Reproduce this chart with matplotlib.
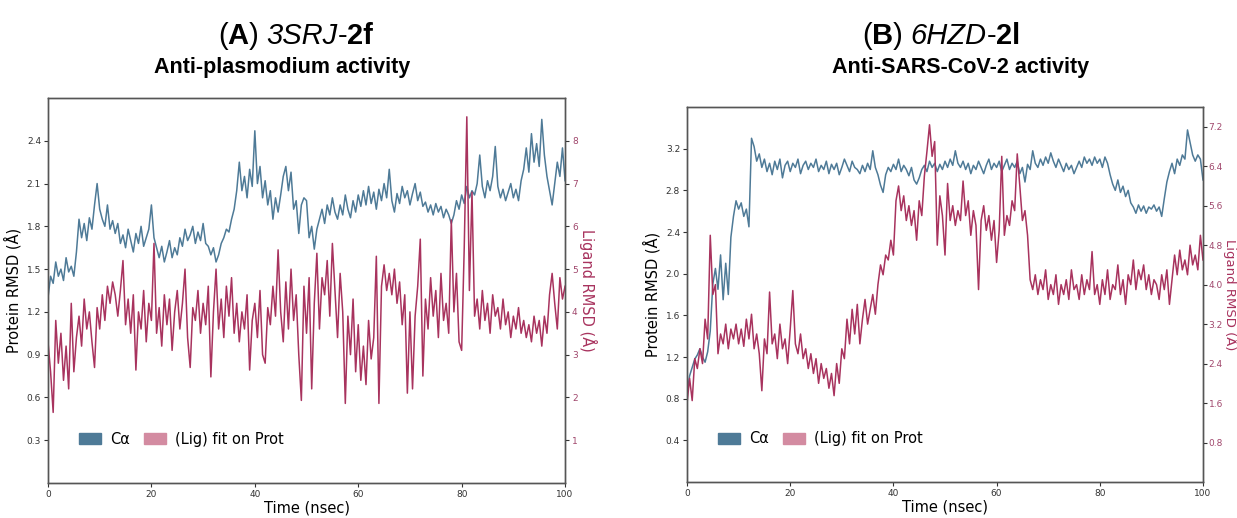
import numpy as np
import matplotlib
matplotlib.use("Agg")
import matplotlib.pyplot as plt
from matplotlib.patches import Patch

# time axis, 0.5 ns steps
time_ns = np.arange(0, 100.5, 0.5)

# (A) 3SRJ-2f : protein C-alpha RMSD (left axis)
prot_a = [1.30, 1.45, 1.40, 1.55, 1.45, 1.50, 1.42, 1.58, 1.48, 1.52,
          1.45, 1.62, 1.85, 1.72, 1.82, 1.70, 1.86, 1.78, 1.95, 2.10,
          1.92, 1.85, 1.80, 1.95, 1.78, 1.84, 1.75, 1.82, 1.68, 1.74,
          1.65, 1.78, 1.70, 1.62, 1.75, 1.68, 1.80, 1.66, 1.72, 1.78,
          1.95, 1.72, 1.65, 1.58, 1.66, 1.55, 1.62, 1.70, 1.58, 1.65,
          1.60, 1.72, 1.66, 1.78, 1.70, 1.74, 1.80, 1.68, 1.76, 1.70,
          1.82, 1.68, 1.66, 1.60, 1.65, 1.55, 1.60, 1.68, 1.72, 1.78,
          1.76, 1.85, 1.92, 2.05, 2.25, 2.05, 2.15, 2.00, 2.20, 2.08,
          2.47, 2.10, 2.22, 2.00, 2.12, 1.95, 2.05, 1.85, 2.00, 1.90,
          2.02, 2.15, 2.22, 2.05, 2.18, 1.92, 1.98, 1.75, 1.95, 2.00,
          1.98, 1.72, 1.80, 1.64, 1.78, 1.85, 1.92, 1.82, 1.95, 1.88,
          2.00, 1.90, 1.85, 1.95, 1.88, 2.02, 1.92, 1.86, 1.98, 1.90,
          2.02, 1.94, 2.05, 1.95, 2.08, 1.96, 2.04, 1.92, 2.06, 1.98,
          2.10, 2.00, 2.20, 1.98, 1.90, 2.03, 1.96, 2.08, 2.00, 2.05,
          1.95, 2.03, 2.10, 1.98, 2.04, 1.94, 1.97, 1.90, 1.95, 1.88,
          1.96, 1.90, 1.94, 1.86, 1.92, 1.88, 1.82, 1.88, 1.98, 1.92,
          2.02, 1.96, 2.08, 2.00, 2.05, 2.02, 2.10, 2.30, 2.08, 2.00,
          2.12, 2.05, 2.15, 2.36, 2.08, 2.00, 2.06, 1.98, 2.04, 2.10,
          2.00, 2.06, 1.98, 2.12, 2.20, 2.35, 2.18, 2.45, 2.25, 2.38,
          2.22, 2.55, 2.30, 2.15, 2.05, 1.95, 2.10, 2.25, 2.15, 2.35,
          2.12]

# (A) ligand RMSD (right axis)
lig_a = [3.3, 2.6, 1.65, 3.8, 2.8, 3.5, 2.4, 3.2, 2.2, 4.2,
         2.6, 3.4, 3.9, 3.2, 4.3, 3.6, 4.0, 3.3, 2.7, 4.1,
         3.6, 4.4, 3.8, 4.6, 4.2, 4.7, 4.4, 3.9, 4.5, 5.2,
         3.7, 4.3, 3.5, 4.4, 2.64, 4.0, 3.6, 4.5, 3.3, 4.2,
         3.8, 5.6, 3.5, 4.1, 3.2, 4.4, 3.7, 4.3, 3.1, 4.0,
         4.5, 3.6, 4.2, 5.0, 3.4, 2.7, 4.1, 3.8, 4.5, 3.5,
         4.2, 3.7, 4.6, 2.48, 4.0, 5.0, 3.6, 4.3, 3.4, 4.6,
         3.9, 4.8, 3.5, 4.2, 3.3, 4.0, 3.6, 4.4, 2.64, 3.8,
         4.2, 3.4, 4.5, 3.0, 2.8, 4.1, 3.7, 4.6, 3.9, 5.45,
         4.0, 3.3, 4.7, 3.6, 5.0, 3.8, 4.4, 3.0, 1.93, 4.6,
         3.5, 4.8, 2.2, 4.2, 5.37, 3.6, 4.8, 4.4, 5.2, 3.9,
         5.6, 4.5, 3.4, 4.9, 4.0, 1.86, 3.9, 3.0, 4.3, 2.6,
         3.7, 2.4, 3.2, 2.3, 3.8, 2.9, 3.4, 5.3, 1.86, 4.6,
         5.1, 4.5, 4.9, 4.4, 5.0, 4.2, 4.7, 3.7, 4.4, 2.1,
         4.0, 2.2, 3.9, 4.6, 5.7, 2.5, 4.3, 3.6, 4.8, 3.9,
         4.5, 3.4, 4.9, 3.8, 4.2, 3.5, 6.15, 4.0, 4.9, 3.3,
         3.1, 5.5, 8.56, 4.5, 6.8, 3.9, 4.3, 3.6, 4.5, 3.8,
         4.2, 3.5, 4.4, 3.9, 4.1, 3.6, 4.3, 3.7, 4.0, 3.4,
         3.9, 3.6, 4.1, 3.5, 3.8, 3.4, 3.7, 3.3, 3.9, 3.5,
         3.8, 3.2, 3.9, 3.5, 4.4, 4.9, 4.2, 3.6, 4.8, 4.3,
         4.6]

# (B) 6HZD-2l : protein C-alpha RMSD (left axis)
prot_b = [0.85, 1.02, 1.10, 1.18, 1.22, 1.28, 1.20, 1.15, 1.25, 1.45,
          1.90, 2.05, 1.85, 2.18, 1.75, 2.10, 1.80, 2.35, 2.55, 2.70,
          2.62, 2.68, 2.55, 2.62, 2.45, 3.30, 3.22, 3.08, 3.15, 3.02,
          3.10, 2.98, 3.06, 2.95, 3.08, 3.00, 3.10, 2.92, 3.04, 3.08,
          2.98, 3.06, 3.02, 3.10, 2.96, 3.04, 3.08, 3.00, 3.06, 3.02,
          3.10, 2.98, 3.04, 3.00, 3.08, 2.96, 3.05, 3.00, 3.06, 2.95,
          3.02, 3.10, 3.04, 2.98, 3.08, 3.02, 3.00, 2.96, 3.04, 2.98,
          3.06, 3.00, 3.18, 3.02, 2.95, 2.85, 2.78, 2.95, 3.02, 2.98,
          3.05, 3.00, 3.10, 2.98, 3.04, 3.00, 2.94, 3.02, 2.90, 2.86,
          2.92, 3.00, 3.04, 2.98, 3.08, 3.02, 3.06, 2.98, 3.05, 3.00,
          3.08, 3.02, 3.10, 3.04, 3.18, 3.06, 3.02, 3.08, 3.00, 3.06,
          2.96, 3.04, 3.00, 3.08, 3.02, 2.96, 3.04, 3.10, 3.00, 3.06,
          3.02, 3.08, 2.98, 3.04, 3.10, 3.00, 3.06, 3.02, 3.08, 2.96,
          3.02, 2.88, 3.05, 3.00, 3.18, 3.06, 3.02, 3.10, 3.04, 3.12,
          3.06, 3.16, 3.08, 3.02, 3.10, 3.04, 2.98, 3.06, 3.00, 3.04,
          2.96, 3.02, 3.08, 3.02, 3.12, 3.06, 3.10, 3.04, 3.12, 3.06,
          3.10, 3.02, 3.12, 3.06, 2.95, 2.86, 2.80, 2.90, 2.78, 2.84,
          2.74, 2.80, 2.68, 2.64, 2.58, 2.66, 2.60, 2.65, 2.58, 2.64,
          2.62, 2.66, 2.60, 2.64, 2.55, 2.72, 2.88, 2.98, 3.06, 2.96,
          3.10, 3.04, 3.14, 3.10, 3.38, 3.26, 3.14, 3.08, 3.14, 3.10,
          2.90]

# (B) ligand RMSD (right axis)
lig_b = [1.6, 2.1, 1.65, 2.5, 2.3, 2.7, 2.4, 3.3, 2.9, 5.0,
         3.8, 4.0, 2.6, 3.0, 2.8, 3.2, 2.7, 3.1, 2.9, 3.2,
         2.8, 3.1, 2.75, 3.3, 2.9, 3.4, 2.7, 3.0, 2.6, 1.85,
         2.9, 2.6, 3.85, 2.8, 3.0, 2.5, 3.2, 2.7, 2.9, 2.4,
         3.1, 3.88, 2.8, 2.6, 3.0, 2.5, 2.7, 2.3, 2.6, 2.2,
         2.5, 2.0, 2.4, 2.1, 2.3, 1.9, 2.2, 1.75, 2.4, 2.0,
         2.7, 2.5, 3.3, 2.8, 3.5, 3.0, 3.6, 2.8, 3.3, 3.7,
         3.2, 3.5, 3.8, 3.4, 4.0, 4.4, 4.2, 4.6, 4.5, 4.9,
         4.6, 5.7, 6.0, 5.5, 5.8, 5.3, 5.6, 5.2, 5.5, 4.9,
         5.7, 5.4, 6.2, 6.7, 7.24, 6.6, 6.9, 4.8, 5.8, 5.4,
         4.6, 6.05, 5.3, 5.6, 5.2, 5.5, 5.3, 6.1, 5.4, 5.7,
         5.0, 5.5, 5.2, 3.9, 5.3, 5.6, 5.1, 5.4, 4.9, 5.3,
         4.45, 5.1, 6.6, 5.0, 5.4, 5.2, 5.7, 5.5, 6.65, 6.0,
         5.3, 5.5, 5.0, 4.1, 3.9, 4.2, 3.8, 4.1, 3.9, 4.3,
         3.7, 4.0, 3.8, 4.2, 3.6, 4.0, 3.8, 4.1, 3.7, 4.3,
         3.9, 4.0, 3.7, 4.2, 3.8, 4.1, 3.9, 4.67, 3.8, 4.0,
         3.6, 4.1, 3.8, 4.3, 3.7, 4.0, 3.9, 4.4, 3.8, 4.1,
         3.6, 4.2, 4.0, 4.5, 3.9, 4.3, 4.1, 4.4, 3.9, 4.2,
         3.8, 4.1, 4.0, 3.7, 4.2, 3.9, 4.3, 3.6, 4.1, 4.6,
         4.2, 4.7, 4.3, 4.5, 4.2, 4.8, 4.4, 4.6, 4.3, 5.0,
         4.5]

x_ticks = [0, 20, 40, 60, 80, 100]
prot_ticks_a = [0.3, 0.6, 0.9, 1.2, 1.5, 1.8, 2.1, 2.4]
lig_ticks_a = [1, 2, 3, 4, 5, 6, 7, 8]
prot_ticks_b = [0.4, 0.8, 1.2, 1.6, 2.0, 2.4, 2.8, 3.2]
lig_ticks_b = [0.8, 1.6, 2.4, 3.2, 4.0, 4.8, 5.6, 6.4, 7.2]

blue = "#4e7a97"
red = "#a8335e"
pink = "#d38ba1"
lig_tick_color = "#a0476c"

fig = plt.figure(figsize=(12.37, 5.18), dpi=100)


def rmsd_panel(rect, prot, lig, ylim_p, ylim_l, pticks, lticks, pfmt, lfmt,
               rlabel_x, rlabel_size, rpad):
    ax = fig.add_axes(rect)
    ax.plot(time_ns, prot, color=blue, lw=1.1)
    ax.set_xlim(0, 100)
    ax.set_ylim(*ylim_p)
    ax.set_xticks(x_ticks)
    ax.set_yticks(pticks)
    ax.set_yticklabels([pfmt.format(v) for v in pticks])
    ax.tick_params(labelsize=6.5, length=3, width=0.8, colors="#333333", pad=2)
    ax.set_xlabel("Time (nsec)", fontsize=10.5, labelpad=1)
    ax.set_ylabel("Protein RMSD (Å)", fontsize=10.5, labelpad=4)

    ax2 = ax.twinx()
    ax2.plot(time_ns, lig, color=red, lw=1.1)
    ax2.set_ylim(*ylim_l)
    ax2.set_yticks(lticks)
    ax2.set_yticklabels([lfmt.format(v) for v in lticks])
    ax2.tick_params(labelsize=6.5, length=3, width=0.8, colors="#333333",
                    labelcolor=lig_tick_color, pad=rpad)
    ax2.set_ylabel("Ligand RMSD (Å)", fontsize=rlabel_size, color=red,
                   rotation=270, va="center", ha="center")
    ax2.yaxis.set_label_coords(rlabel_x, 0.5)

    for a in (ax, ax2):
        for s in a.spines.values():
            s.set_color("#555555")
            s.set_linewidth(1.0)

    handles = [Patch(color=blue, label="Cα"),
               Patch(color=pink, label="(Lig) fit on Prot")]
    ax2.legend(handles=handles, loc="lower left", bbox_to_anchor=(0.035, 0.06),
               ncol=2, frameon=False, fontsize=10.5, handlelength=1.5,
               handleheight=0.8, columnspacing=1.0, handletextpad=0.6)
    return ax, ax2


rmsd_panel([0.0388, 0.0676, 0.418, 0.7432], prot_a, lig_a,
           (0.0, 2.7), (0.0, 9.0), prot_ticks_a, lig_ticks_a, "{:.1f}", "{:d}",
           1.045, 10.5, 2)
rmsd_panel([0.5554, 0.0695, 0.4171, 0.7239], prot_b, lig_b,
           (0.0, 3.6), (0.0, 7.6), prot_ticks_b, lig_ticks_b, "{:.1f}", "{:.1f}",
           1.0525, 9.5, 1)

# panel titles built from pieces of different weight / style
title_font = "Liberation Sans"


def chain_title(x, y, pieces, size):
    ax0 = fig.add_axes([0, 0, 1, 1], frameon=False)
    ax0.set_axis_off()
    prev = ax0.annotate(pieces[0][0], xy=(x, y), xycoords="figure fraction",
                        fontsize=size, family=title_font,
                        fontweight=pieces[0][1], fontstyle=pieces[0][2],
                        va="baseline", ha="left")
    for txt, w, st in pieces[1:]:
        prev = ax0.annotate(txt, xy=(1, 0), xycoords=prev, fontsize=size,
                            family=title_font, fontweight=w, fontstyle=st,
                            va="bottom", ha="left")
    return prev


chain_title(218 / 1237, 1 - 44 / 518,
            [("(", "normal", "normal"), ("A", "bold", "normal"),
             (") ", "normal", "normal"), ("3SRJ", "normal", "italic"),
             ("-", "normal", "normal"), ("2f", "bold", "normal")], 21)
chain_title(862 / 1237, 1 - 44 / 518,
            [("(", "normal", "normal"), ("B", "bold", "normal"),
             (") ", "normal", "normal"), ("6HZD", "normal", "italic"),
             ("-", "normal", "normal"), ("2l", "bold", "normal")], 21)

fig.text(282 / 1237, 1 - 68 / 518, "Anti-plasmodium activity", fontsize=15.5,
         family=title_font, fontweight="bold", ha="center", va="center")
fig.text(961 / 1237, 1 - 68 / 518, "Anti-SARS-CoV-2 activity", fontsize=15.5,
         family=title_font, fontweight="bold", ha="center", va="center")

fig.savefig("out.png", dpi=100)
